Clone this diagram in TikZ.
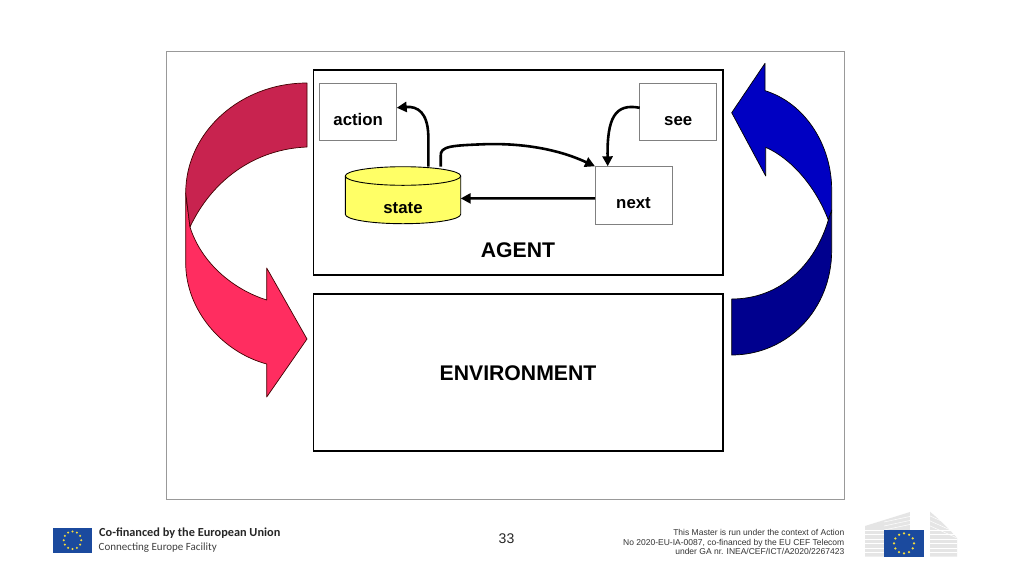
\documentclass[tikz,border=0pt]{standalone}
\usepackage{fontspec}
\setmainfont{Liberation Sans}
\newfontfamily\logofont{Carlito}
\usetikzlibrary{arrows.meta}
\definecolor{crimsondark}{HTML}{C8234F}
\definecolor{crimsonlight}{HTML}{FF2D60}
\definecolor{bluelight}{HTML}{0000C2}
\definecolor{bluedark}{HTML}{00008E}
\definecolor{euflag}{HTML}{1B4A9E}
\definecolor{eustar}{HTML}{F5DC3C}
\definecolor{statefill}{HTML}{FFFF66}
\newcommand{\lowered}[2]{\raisebox{-#1}[0pt][0pt]{#2}}
\tikzset{
  x=1pt,y=-1pt,
  bigbox/.style={draw=black,line width=1.5pt,fill=white,minimum width=409.5pt,anchor=north west,inner sep=0pt,outer sep=0pt},
  smallbox/.style={draw=black!50,line width=0.9pt,fill=white,anchor=north west,inner sep=0pt,outer sep=0pt,font=\bfseries\fontsize{16.8}{18}\selectfont},
  conn/.style={line width=2.6pt,-{Triangle[length=10pt,width=10pt]}},
  swoosh/.style={draw=black!75!red,line width=0.7pt,line join=round},
  swooshb/.style={draw=black,line width=0.7pt,line join=round},
  bigtext/.style={font=\bfseries\fontsize{21.2}{22}\selectfont,inner sep=0pt},
  foot/.style={font=\fontsize{8.5}{9.3}\selectfont,align=right,anchor=east,inner sep=0pt,text=black!80},
  wing/.style={draw=none,fill=black!10},
  wingline/.style={draw=white,line width=0.5pt}
}
\begin{document}
\begin{tikzpicture}
\useasboundingbox (0,0) rectangle (1024,576);
\fill[white] (0,0) rectangle (1024,576);
\draw[black!40,line width=0.9pt] (166.5,51.5) rectangle (844.5,499);

% swooshes, left
\path[swoosh,fill=crimsonlight] (185.7,193) -- (185.7,263) .. controls (185.7,310) and (222,352) .. (266.7,364)
  -- (266.7,397) -- (307,339) -- (266.7,268) -- (266.7,300)
  .. controls (232,289) and (201,262) .. (190,227) -- cycle;
\path[swoosh,fill=crimsondark] (307,83) .. controls (240,83) and (185.7,132.5) .. (185.7,193)
  -- (190,227) .. controls (212,180) and (255,149) .. (307,147) -- cycle;
% swooshes, right
\path[swooshb,fill=bluedark] (828.3,220) -- (831.7,210) -- (831.7,250) .. controls (831.7,310) and (787,355) .. (731.7,355)
  -- (731.7,299) .. controls (780,299) and (815,265) .. (828.3,220) -- cycle;
\path[swooshb,fill=bluelight] (731.7,112.7) -- (765,63.3) -- (765,90.7)
  .. controls (805,103) and (831.7,145) .. (831.7,190) -- (831.7,210) -- (828.3,220)
  .. controls (815,185) and (790,158) .. (765.7,147.3) -- (765.7,176) -- cycle;

% main boxes
\node[bigbox,minimum height=205pt] (agent) at (313.5,70) {};
\node[bigbox,minimum height=157pt] (env) at (313.5,294) {};
\node[bigtext] (agentlabel) at (518,250) {AGENT};
\node[bigtext] (envlabel) at (518,373.5) {ENVIRONMENT};

\node[smallbox,minimum width=77pt,minimum height=57pt] (action) at (319.7,83.3) {\lowered{13.2pt}{action}};
\node[smallbox,minimum width=77pt,minimum height=57pt] (see) at (639.7,83.3) {\lowered{13.2pt}{see}};
\node[smallbox,minimum width=77pt,minimum height=57.7pt] (next) at (595,166.3) {\lowered{13.2pt}{next}};

% state store: a cylinder drawn on a named node
\path[draw=black,line width=0.9pt,fill=statefill]
  (345.3,176) -- (345.3,214.3)
  .. controls (345.3,219.5) and (371.1,223.7) .. (403,223.7)
  .. controls (434.9,223.7) and (460.7,219.5) .. (460.7,214.3)
  -- (460.7,176)
  .. controls (460.7,170.9) and (434.9,166.7) .. (403,166.7)
  .. controls (371.1,166.7) and (345.3,170.9) .. (345.3,176) -- cycle;
\draw[black,line width=0.9pt] (345.3,176)
  .. controls (345.3,181.1) and (371.1,185.3) .. (403,185.3)
  .. controls (434.9,185.3) and (460.7,181.1) .. (460.7,176);
\node[minimum width=115.4pt,minimum height=57pt,inner sep=0pt,outer sep=0pt,font=\bfseries\fontsize{16.8}{18}\selectfont] (store) at (403,195.2) {\lowered{18.3pt}{state}};

% connectors
\draw[conn] ([xshift=25.3pt]store.north) -- (428.3,135)
   .. controls (427.5,113) and (418,106) .. ([yshift=4pt]action.east);
\draw[conn] ([xshift=37.7pt]store.north) -- (440.7,156)
   .. controls (440,146) and (452,145.5) .. (485,144.2)
   .. controls (525,143) and (560,150) .. (next.north west);
\draw[conn] ([yshift=4pt]see.west) .. controls (615,103) and (607,118) .. ([xshift=12.7pt]next.north west);
\draw[conn] ([yshift=-3.2pt]next.west) -- ([yshift=-3.2pt]store.east);

% footer left
\node[fill=euflag,minimum width=38.4pt,minimum height=25pt,inner sep=0pt] (flagleft) at (72.5,540.2) {};
\foreach \a in {0,30,...,330}
  \fill[eustar] (flagleft)+(\a:8.8) circle (1.15);
\node[font=\logofont\bfseries\fontsize{12.3}{14}\selectfont,anchor=west,inner sep=0pt,text=black!85] (co) at (99,533) {Co-financed by the European Union};
\node[font=\logofont\fontsize{11}{14}\selectfont,anchor=west,inner sep=0pt,text=black!75] (cef) at (98.5,548) {Connecting Europe Facility};

\node[font=\fontsize{14}{16}\selectfont,inner sep=0pt,text=black!85] (page) at (506.5,539) {33};

\node[foot] (master) at (844.5,542) {This Master is run under the context of Action\\No 2020-EU-IA-0087, co-financed by the EU CEF Telecom\\under GA nr. INEA/CEF/ICT/A2020/2267423};

% EC logo
\path[wing] (865,526) -- (910,512) -- (910,556.7) -- (865,556.7) -- cycle;
\path[wing] (930,511.7) .. controls (940,520) and (950,530) .. (957,538) -- (957,556.7) -- (930,556.7) -- cycle;
\foreach \y in {530,534.5,...,556}
  \draw[wingline] (865,\y) -- (957,\y);
\foreach \y in {518,522,526}
  \draw[wingline] (884,\y+4) -- (912,\y-2);
\foreach \y in {518,523,528}
  \draw[wingline] (928,\y-3) -- (957,\y+10);
\fill[white] (910,505) rectangle (930,530);
\node[fill=euflag,minimum width=40pt,minimum height=26.7pt,inner sep=0pt] (flagright) at (904,543.4) {};
\foreach \a in {0,30,...,330}
  \fill[eustar] (flagright)+(\a:10) circle (1.25);
\end{tikzpicture}
\end{document}
